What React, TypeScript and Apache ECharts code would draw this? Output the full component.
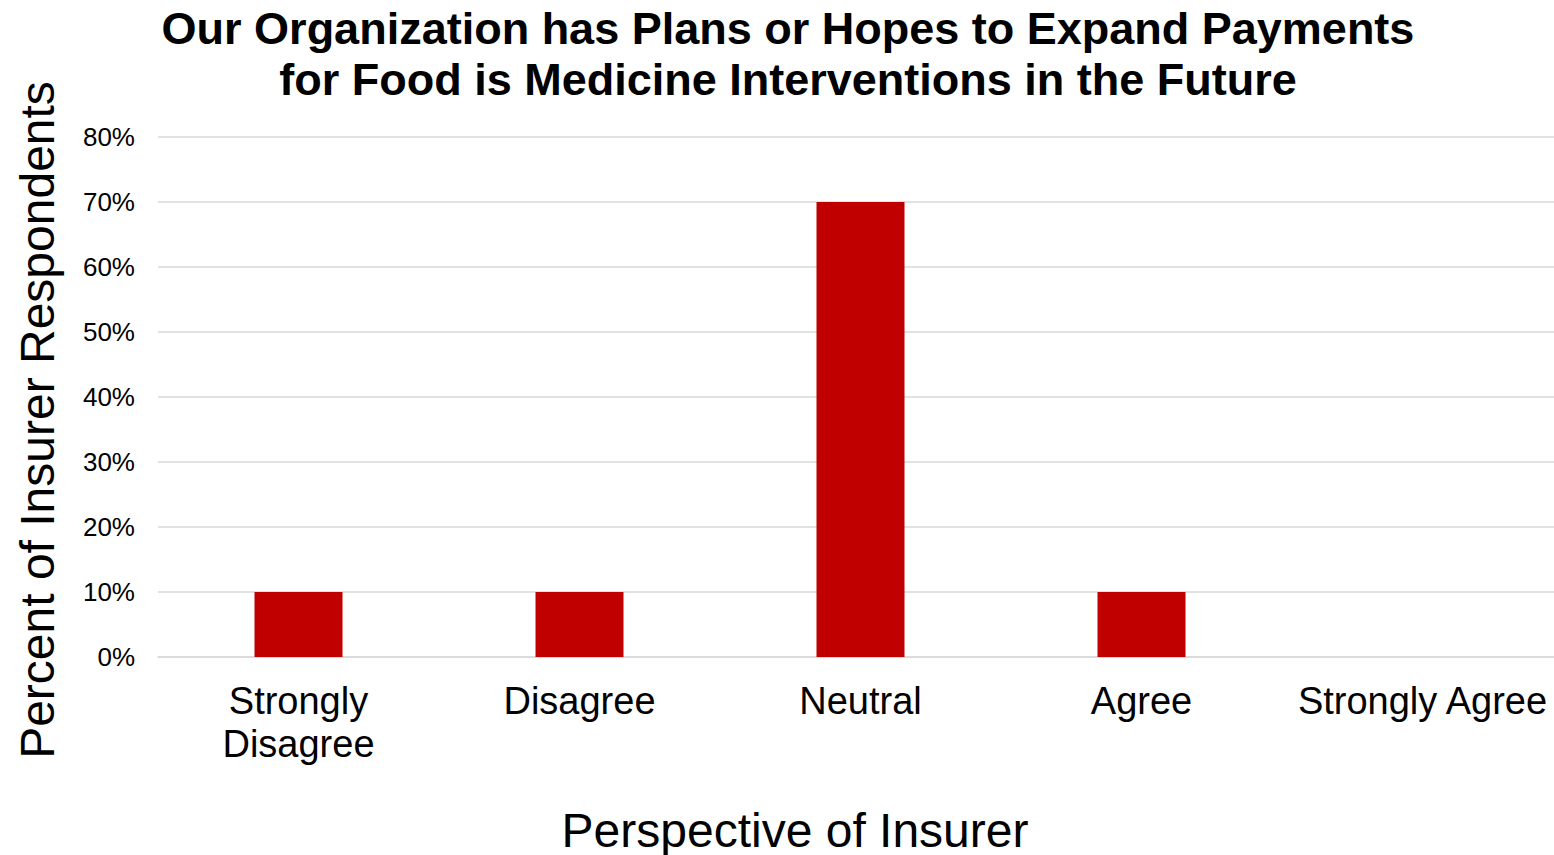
import React, { useEffect, useRef } from "react";
import * as echarts from "echarts";

const categories = ["Strongly Disagree", "Disagree", "Neutral", "Agree", "Strongly Agree"];
const values = [10, 10, 70, 10, 0];
const titleLines = [
  "Our Organization has Plans or Hopes to Expand Payments",
  "for Food is Medicine Interventions in the Future",
];
const yAxisTitle = "Percent of Insurer Respondents";
const xAxisTitle = "Perspective of Insurer";

const FONT = "Liberation Sans, Arial, sans-serif";

export default function App() {
  const ref = useRef<HTMLDivElement>(null);
  useEffect(() => {
    document.body.style.margin = "0";
    const chart = echarts.init(ref.current!, null, { renderer: "svg" });
    chart.setOption({
      animation: false,
      backgroundColor: "#ffffff",
      textStyle: { fontFamily: FONT },
      title: {
        text: titleLines.join("\n"),
        left: 788,
        textAlign: "center",
        top: 3,
        padding: 0,
        textStyle: {
          fontSize: 45,
          fontWeight: "bold",
          color: "#000000",
          lineHeight: 51,
          fontFamily: FONT,
        },
      },
      graphic: [
        {
          type: "text",
          x: 37,
          y: 420,
          rotation: Math.PI / 2,
          style: {
            text: yAxisTitle,
            fontSize: 48,
            fontFamily: FONT,
            fill: "#000000",
            align: "center",
            verticalAlign: "middle",
          },
        },
        {
          type: "text",
          x: 795,
          y: 830,
          style: {
            text: xAxisTitle,
            fontSize: 48,
            fontFamily: FONT,
            fill: "#000000",
            align: "center",
            verticalAlign: "middle",
          },
        },
      ],
      grid: {
        left: 158,
        right: -9,
        top: 137,
        bottom: 198,
        containLabel: false,
        outerBoundsMode: "none",
      },
      xAxis: {
        type: "category",
        data: categories,
        axisLine: { show: true, lineStyle: { color: "#d9d9d9", width: 1.5 } },
        axisTick: { show: false },
        axisLabel: {
          fontSize: 38,
          color: "#000000",
          margin: 22,
          lineHeight: 43,
          interval: 0,
          formatter: (v: string) => (v === "Strongly Disagree" ? "Strongly\nDisagree" : v),
        },
      },
      yAxis: {
        type: "value",
        min: 0,
        max: 80,
        interval: 10,
        axisLine: { show: false },
        axisTick: { show: false },
        axisLabel: {
          fontSize: 26,
          color: "#000000",
          margin: 23,
          formatter: (v: number) => v + "%",
        },
        splitLine: { lineStyle: { color: "#d9d9d9", width: 1.5 } },
      },
      series: [
        {
          type: "bar",
          data: values,
          barWidth: 88,
          itemStyle: { color: "#c00000" },
        },
      ],
    });
    return () => chart.dispose();
  }, []);
  return <div ref={ref} style={{ width: 1554, height: 855 }} />;
}
